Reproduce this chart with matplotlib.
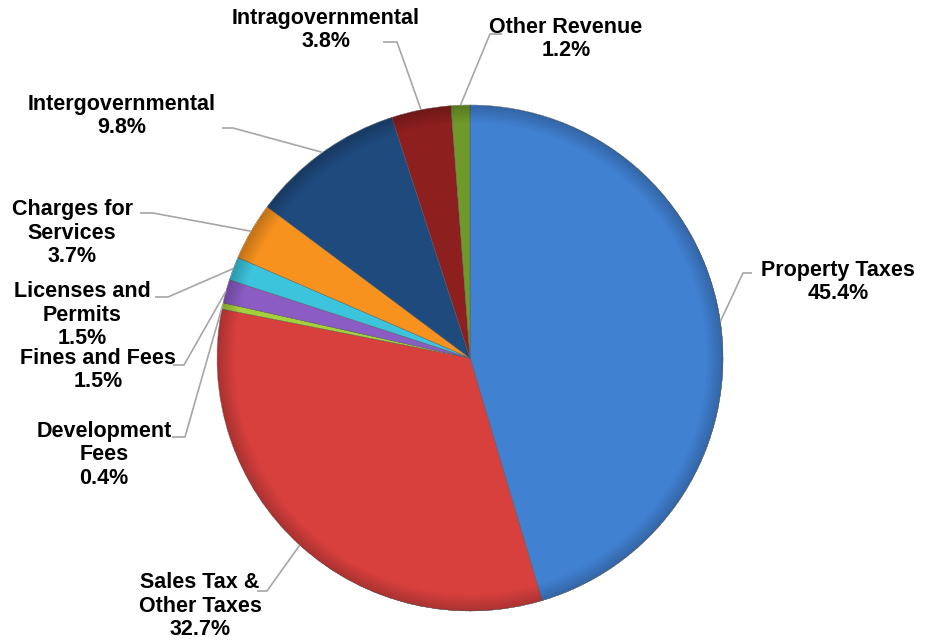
import numpy as np
import matplotlib
matplotlib.use("Agg")
import matplotlib.pyplot as plt

# revenue shares, clockwise from 12 o'clock
categories = ["Property Taxes", "Sales Tax &\nOther Taxes", "Development\nFees", "Fines and Fees",
              "Licenses and\nPermits", "Charges for\nServices", "Intergovernmental",
              "Intragovernmental", "Other Revenue"]
shares = [45.4, 32.7, 0.4, 1.5, 1.5, 3.7, 9.8, 3.8, 1.2]
colors = ["#4181d2", "#d8403e", "#a6cf3c", "#8a5cc4", "#3cc4dc", "#f7921f",
          "#1f4a7e", "#8e1f1f", "#6f9a2a"]

# label layout in pixel coords: text centre, horizontal leader start, elbow
label_pos = [(838, 282), (200, 606), (104, 455), (98, 370), (82, 315),
             (72, 233), (122, 116), (326, 30), (566, 39)]
leader_h = [(752, 743, 273), (257, 267, 591), (172, 185, 437), (173, 184, 365),
            (155, 168, 297), (140, 153, 213), (222, 233, 128), (383, 397, 42),
            (502, 490, 34)]

W, H = 934, 644
cx, cy, R = 470, 358, 253

plt.rcParams['font.family'] = ['Liberation Sans', 'DejaVu Sans']

fig = plt.figure(figsize=(W / 100, H / 100), dpi=100)
ax = fig.add_axes([0, 0, 1, 1])

wedges, _ = ax.pie(shares, colors=colors, startangle=90, counterclock=False,
                   center=(cx, H - cy), radius=R, frame=True,
                   wedgeprops=dict(edgecolor='#555555', linewidth=0.3))
ax.set_xlim(0, W)
ax.set_ylim(0, H)
ax.set_aspect('equal')
ax.axis('off')

# soft bevel shading over the pie
yy, xx = np.mgrid[0:H, 0:W]
rr = np.hypot(xx - cx, yy - cy) / R
shade = np.zeros((H, W, 4))
dark = np.clip((rr - 0.93) / 0.07, 0, 1)
shade[..., 3] = np.where(rr <= 1, dark * 0.22, 0)
ax.imshow(shade, extent=[0, W, 0, H], origin='upper', zorder=3)

for w, name, pct, (tx, ty), (x0, x1, hy) in zip(wedges, categories, shares, label_pos, leader_h):
    mid = np.deg2rad((w.theta1 + w.theta2) / 2)
    ax_x = cx + R * np.cos(mid)
    ax_y = (H - cy) + R * np.sin(mid)
    ax.plot([x0, x1, ax_x], [H - hy, H - hy, ax_y], color='#a6a6a6', lw=1.2,
            zorder=4, solid_capstyle='butt')
    ax.text(tx, H - ty, f"{name}\n{pct:.1f}%", ha='center', va='center',
            fontsize=15.5, fontweight='bold', linespacing=1.15, zorder=5)

fig.savefig("out.png", dpi=100)
